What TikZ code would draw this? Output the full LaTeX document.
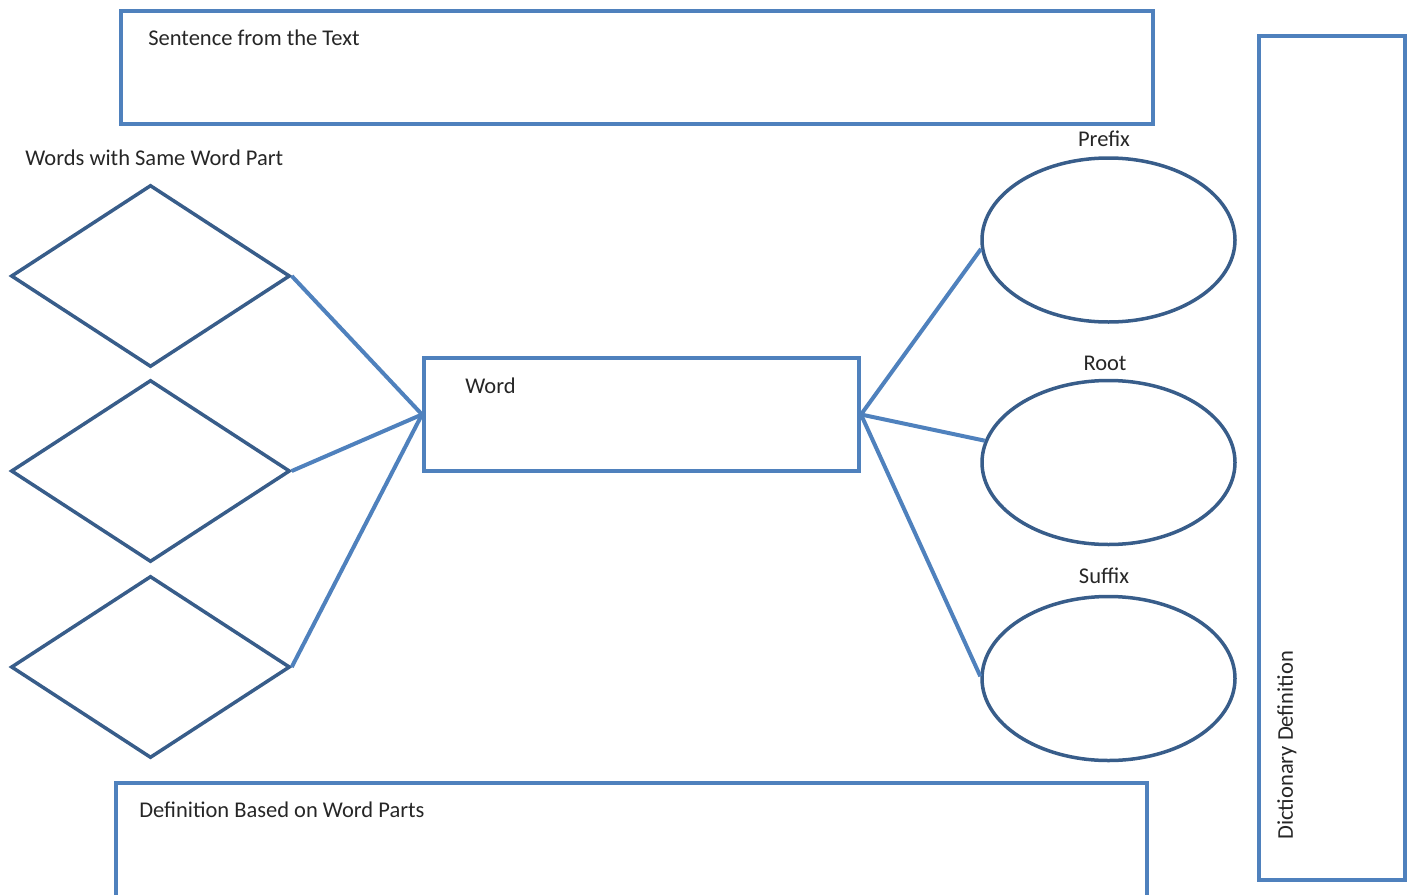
\documentclass[tikz,border=0pt]{standalone}
\usepackage{fontspec}
\setmainfont{Carlito}
\usetikzlibrary{shapes.geometric, positioning}

\definecolor{lineblue}{HTML}{4F81BD}
\definecolor{darkblue}{HTML}{385D8A}

\begin{document}
\begin{tikzpicture}[
    box/.style={draw=lineblue, line width=0.08cm, minimum width=#1, inner sep=0pt},
    gem/.style={diamond, draw=darkblue, line width=0.07cm, minimum width=5.58cm, minimum height=3.64cm, inner sep=0pt},
    oval/.style={ellipse, draw=darkblue, line width=0.07cm, minimum width=5.06cm, minimum height=3.28cm, inner sep=0pt},
    link/.style={draw=lineblue, line width=0.08cm},
    txt/.style={font=\fontsize{12.8}{15}\selectfont, text=black!85, inner sep=0pt},
    every node/.style={font=\fontsize{12.8}{15}\selectfont}
  ]

    %% page frame (1413 x 895)
    \useasboundingbox (0,0) rectangle (28.26,-17.9);
    \clip (0,0) rectangle (28.26,-17.9);

    %% ── text boxes ──
    \node[box=20.64cm, minimum height=2.26cm] (sentence) at (12.74, -1.35) {};
    \node[txt, anchor=west] at (2.96, -0.76) {Sentence from the Text};

    \node[box=2.92cm, minimum height=16.88cm] (dict) at (26.64, -9.16) {};
    \node[txt, anchor=west, rotate=90] at (25.74, -16.8) {Dictionary Definition};

    \node[box=20.62cm, minimum height=2.74cm] (meaning) at (12.63, -17.03) {};
    \node[txt, anchor=west] at (2.78, -16.2) {Definition Based on Word Parts};

    %% ── centre word ──
    \node[box=8.7cm, minimum height=2.26cm] (word) at (12.83, -8.29) {};
    \node[txt, anchor=west] at (9.3, -7.72) {Word};

    %% ── related words (left) ──
    \node[txt, anchor=west] at (0.5, -3.16) {Words with Same Word Part};
    \node[gem] (same1) at (3.01, -5.52) {};
    \node[gem] (same2) at (3.01, -9.42) {};
    \node[gem] (same3) at (3.01, -13.34) {};

    %% ── word parts (right) ──
    \node[oval] (prefix) at (22.17, -4.8) {};
    \node[txt] at (22.08, -2.78) {Prefix};
    \node[oval] (root) at (22.17, -9.25) {};
    \node[txt] at (22.1, -7.26) {Root};
    \node[oval] (suffix) at (22.17, -13.57) {};
    \node[txt] at (22.08, -11.52) {Suffix};

    %% ═══════ CONNECTORS ═══════
    \foreach \n in {same1, same2, same3}
      \draw[link] (\n.east) -- (word.west);
    \draw[link] (word.east) -- (prefix.184);
    \draw[link] (word.east) -- (root.170);
    \draw[link] (word.east) -- (suffix.179);

\end{tikzpicture}
\end{document}
